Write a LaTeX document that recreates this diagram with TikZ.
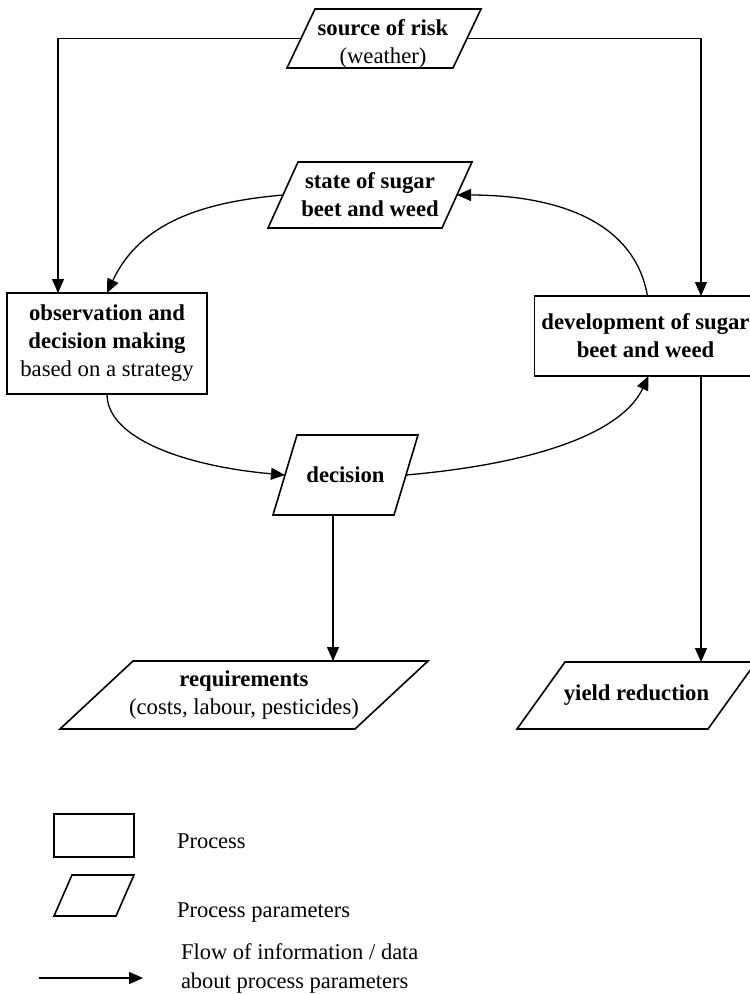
\documentclass[tikz,border=0pt]{standalone}
\usepackage{fontspec}
\setmainfont{Liberation Serif}
\usetikzlibrary{arrows.meta}
\newcommand\pgram[2]{\draw[boxline] ([xshift=#2]#1.north west) -- ([xshift=#2]#1.north east) -- ([xshift=-#2]#1.south east) -- ([xshift=-#2]#1.south west) -- cycle;}
\begin{document}
\begin{tikzpicture}[x=1pt, y=1pt,
  every node/.style={font=\fontsize{22.7}{28}\selectfont, inner sep=0pt, outer sep=0pt},
  boxline/.style={line width=1.6pt, line join=miter},
  proc/.style={draw, line width=1.6pt, rectangle, align=center},
  param/.style={rectangle, align=center},
  flow/.style={line width=1.3pt, -{Triangle[length=14pt,width=12pt]}},
  lbl/.style={align=center},
  legtxt/.style={anchor=base west, font=\fontsize{22.5}{28}\selectfont}
]
\useasboundingbox (0,0) rectangle (750,-994);

% parameters (parallelograms)
\node[param, minimum width=166pt, minimum height=59pt] (src) at (384,-38.5) {};
\pgram{src}{14pt}
\node[lbl] (srct) at (383,-44) {\textbf{source of risk}\\(weather)};
\node[param, minimum width=174pt, minimum height=66pt] (st) at (370,-195) {\textbf{state of sugar}\\\textbf{beet and weed}};
\pgram{st}{15pt}
\node[param, minimum width=121pt, minimum height=80pt] (dec) at (345.5,-475) {\textbf{decision}};
\pgram{dec}{12pt}
\node[param, minimum width=295pt, minimum height=68pt] (req) at (244,-695) {\textbf{requirements}\\(costs, labour, pesticides)};
\pgram{req}{36.5pt}
\node[param, minimum width=191pt, minimum height=67pt] (yld) at (636.5,-695.5) {\textbf{yield reduction}};
\pgram{yld}{24pt}

% processes (rectangles)
\node[proc, minimum width=200pt, minimum height=101pt] (obs) at (107,-343.5) {\textbf{observation and}\\\textbf{decision making}\\based on a strategy};
\node[proc, minimum width=222pt, minimum height=80pt] (dev) at (645.5,-336) {\textbf{development of sugar}\\\textbf{beet and weed}};

% connectors
\draw[flow] (src.west) -| ([xshift=-49pt]obs.north);
\draw[flow] (src.east) -| ([xshift=55.5pt]dev.north);
\draw[flow] (st.west) to[out=185, in=65] (obs.north);
\draw[flow] ([xshift=2pt]dev.north) to[out=100, in=0] (st.east);
\draw[flow] (obs.south) to[out=270, in=175, out looseness=0.6, in looseness=1.25] (dec.west);
\draw[flow] (dec.east) to[out=5, in=245, out looseness=1.3, in looseness=0.6] ([xshift=3pt]dev.south);
\draw[flow] ([xshift=-12.5pt]dec.south) -- ([xshift=-12.5pt]dec.south |- req.north);
\draw[flow] ([xshift=55.5pt]dev.south) -- ([xshift=55.5pt]dev.south |- yld.north);

% legend
\node[proc, minimum width=80pt, minimum height=43pt] (lgrect) at (94,-835.5) {};
\node[param, minimum width=62pt, minimum height=41pt] (lgpar) at (94,-895.5) {};
\pgram{lgpar}{9pt}
\coordinate (la) at (39,-978);
\coordinate (lb) at (143,-978);
\draw[flow] (la) -- (lb);
\node[legtxt] (t1) at (177,-848) {Process};
\node[legtxt] (t2) at (177,-917) {Process parameters};
\node[legtxt] (t3) at (181,-959) {Flow of information / data};
\node[legtxt] (t4) at (181,-988) {about process parameters};
\end{tikzpicture}
\end{document}
